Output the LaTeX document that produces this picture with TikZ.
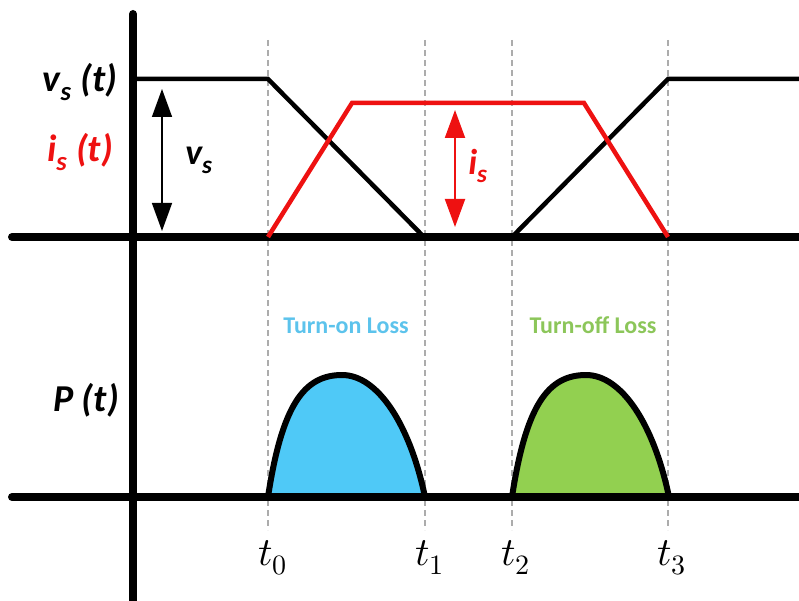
\documentclass[tikz,border=0pt]{standalone}
\usepackage{fontspec}
\usepackage{unicode-math}
\setmainfont{Carlito}
\setmathfont{Latin Modern Math}
\usetikzlibrary{arrows.meta}
\definecolor{onblue}{HTML}{4FC9F7}
\definecolor{onbluetxt}{HTML}{5CC3EC}
\definecolor{offgreen}{HTML}{92D050}
\definecolor{offgreentxt}{HTML}{8CC65A}
\definecolor{sigred}{HTML}{EE1111}
\begin{document}
\begin{tikzpicture}[x=1pt,y=-1pt,
  axis/.style={line width=8pt,line cap=round},
  wave/.style={line width=4.5pt,line join=miter},
  guide/.style={draw=gray!65,line width=1.2pt,dash pattern=on 6pt off 4pt},
  lbl/.style={font=\fontsize{38}{40}\selectfont\bfseries\itshape,inner sep=0pt},
  midlbl/.style={font=\fontsize{36}{38}\selectfont\bfseries\itshape,inner sep=0pt},
  tlbl/.style={font=\fontsize{40}{42}\selectfont,inner sep=0pt,anchor=base west},
  loss/.style={font=\fontsize{24}{26}\selectfont\bfseries,inner sep=0pt},
  hump/.style={line width=6pt,line join=round},
  dimarrow/.style={{Triangle[width=20pt,length=28pt]}-{Triangle[width=20pt,length=28pt]}}
]
\useasboundingbox (0,0) rectangle (799,601);

% guide lines
\foreach \n/\x in {0/268,1/425,2/512,3/668}{
  \coordinate (g\n top) at (\x,40);
  \coordinate (g\n bot) at (\x,530);
  \draw[guide] (g\n top) -- (g\n bot);
}

% humps
\coordinate (h1a) at (268,497);
\coordinate (h1b) at (425,497);
\coordinate (h2a) at (512,497);
\coordinate (h2b) at (669,497);
\draw[hump,fill=onblue] (h1a) .. controls (282,405) and (304,375) .. (342,375)
  .. controls (378,375) and (410,425) .. (h1b) -- cycle;
\draw[hump,fill=offgreen] (h2a) .. controls (526,405) and (548,375) .. (586,375)
  .. controls (622,375) and (654,425) .. (h2b) -- cycle;

% axes
\coordinate (vtop) at (133,14);
\coordinate (vbot) at (133,610);
\coordinate (h1l) at (12,237);
\coordinate (h1r) at (805,237);
\coordinate (h2l) at (12,497);
\coordinate (h2r) at (805,497);
\draw[axis] (vtop) -- (vbot);
\draw[axis] (h1l) -- (h1r);
\draw[axis] (h2l) -- (h2r);

% voltage
\coordinate (v0) at (137,79);
\coordinate (v1) at (268,79);
\coordinate (v2) at (424,237);
\coordinate (v3) at (512,237);
\coordinate (v4) at (668,79);
\coordinate (v5) at (805,79);
\draw[wave] (v0) -- (v1) -- (v2);
\draw[wave] (v3) -- (v4) -- (v5);

% current
\coordinate (i0) at (268,237);
\coordinate (i1) at (352,103);
\coordinate (i2) at (584,103);
\coordinate (i3) at (668,237);
\draw[wave,sigred] (i0) -- (i1) -- (i2) -- (i3);

% dimension arrows
\coordinate (va) at (162,89);
\coordinate (vb) at (162,231);
\draw[dimarrow,line width=1.5pt] (va) -- (vb);
\coordinate (ia) at (455,110);
\coordinate (ib) at (455,227);
\draw[dimarrow,line width=2pt,sigred] (ia) -- (ib);

% labels
\node[lbl] (lvs) at (80,82) {v\textsubscript{s} (t)};
\node[lbl,sigred] (lis) at (80,152) {i\textsubscript{s} (t)};
\node[lbl] (lP) at (86,400) {P (t)};
\node[midlbl] (lv) at (199,160) {v\textsubscript{s}};
\node[midlbl,sigred] (li) at (478,166) {i\textsubscript{s}};

\node[loss,onbluetxt] (lon) at (346,326) {Turn-on Loss};
\node[loss,offgreentxt] (loff) at (593,325) {Turn-off Loss};

\node[tlbl] (t0) at (258,565) {$t_0$};
\node[tlbl] (t1) at (415,565) {$t_1$};
\node[tlbl] (t2) at (501,565) {$t_2$};
\node[tlbl] (t3) at (657,565) {$t_3$};
\end{tikzpicture}
\end{document}
